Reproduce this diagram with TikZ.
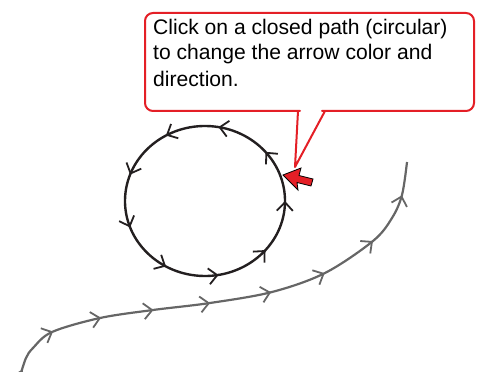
\documentclass[tikz,border=0pt]{standalone}
\usepackage{fontspec}
\setmainfont{Liberation Sans}
\usetikzlibrary{decorations.markings}
\definecolor{calloutred}{HTML}{E41F26}
\definecolor{circleblack}{HTML}{231F20}
\definecolor{curvegray}{HTML}{666666}
\newcommand{\chevmark}[1]{\draw[#1, line width=1.8pt, line cap=butt, line join=miter] (-8.5pt,8pt) -- (0pt,0pt) -- (-8.5pt,-8pt);}
\tikzset{
  ringpath/.style={draw=circleblack, line width=2.4pt,
    postaction={decorate, decoration={markings,
      mark=between positions 0.0001 and 0.95 step 0.11111 with {\chevmark{circleblack}}}}},
  wavepath/.style={draw=curvegray, line width=2.2pt,
    postaction={decorate, decoration={markings,
      mark=at position 2pt with {\chevmark{curvegray}},
      mark=at position 53pt with {\chevmark{curvegray}},
      mark=at position 103pt with {\chevmark{curvegray}},
      mark=at position 156pt with {\chevmark{curvegray}},
      mark=at position 213pt with {\chevmark{curvegray}},
      mark=at position 275pt with {\chevmark{curvegray}},
      mark=at position 332pt with {\chevmark{curvegray}},
      mark=at position 390pt with {\chevmark{curvegray}},
      mark=at position 445pt with {\chevmark{curvegray}}}}},
  callout/.style={draw=calloutred, fill=white, line width=2pt, line join=round},
  pointer/.style={fill=calloutred, draw=black, line width=0.8pt, line join=miter},
  calltext/.style={anchor=base west, inner sep=0pt, font=\fontsize{21.1}{26}\selectfont}
}
\begin{document}
\begin{tikzpicture}[x=1pt,y=1pt]
\useasboundingbox (0,0) rectangle (482,372);
% closed circular path
\coordinate (c) at (205,171);
\path[ringpath] ([shift={(-1:80pt and 75pt)}]c) arc[start angle=-1, end angle=359, x radius=80pt, y radius=75pt];
% open wavy path
\path[wavepath] plot[smooth, tension=0.55] coordinates {(21,-1) (26,14) (33,24) (52,40) (100,54) (153,62) (210,69) (272,80) (325,99) (373,131) (392,154) (402,177) (407,210)};
% callout
\draw[callout, rounded corners=8pt] (300,261) -- (145,261) -- (145,359) -- (474,359) -- (474,261) -- (330,261) [sharp corners] -- (325,261) -- (295,205) -- (298,261) -- cycle;
\node[calltext] (t1) at (153,337.7) {Click on a closed path (circular)};
\node[calltext] (t2) at (153,312) {to change the arrow color and};
\node[calltext] (t3) at (153,285.3) {direction.};
% red pointer arrow
\draw[pointer] (283,197) -- (301,204) -- (299,196.5) -- (313,193) -- (311,186) -- (297,189.5) -- (298,182) -- cycle;
\end{tikzpicture}
\end{document}
